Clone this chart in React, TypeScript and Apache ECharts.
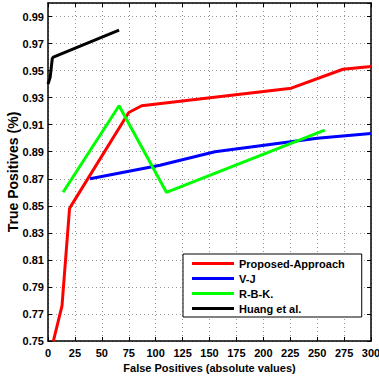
import React, { useEffect, useRef } from "react";
import * as echarts from "echarts";

const seriesNames = ["Proposed-Approach", "V-J", "R-B-K.", "Huang et al."];
const seriesColors = ["#ff0000", "#0000ff", "#00ff00", "#000000"];
const proposed: [number, number][] = [
  [5, 0.75], [13, 0.776], [20, 0.848], [23, 0.852], [75, 0.919], [87, 0.924],
  [226, 0.937], [274, 0.951], [300, 0.953],
];
const vj: [number, number][] = [
  [39, 0.87], [104, 0.88], [155, 0.89], [250, 0.9], [300, 0.9035],
];
const rbk: [number, number][] = [
  [14, 0.86], [66, 0.924], [110, 0.86], [257, 0.906],
];
const huang: [number, number][] = [
  [0, 0.94], [2, 0.945], [4, 0.959], [5, 0.96], [66, 0.98],
];
const xTitle = "False Positives (absolute values)";
const yTitle = "True Positives (%)";

const FONT = "'Liberation Sans', Arial, sans-serif";

export default function App() {
  const ref = useRef<HTMLDivElement>(null);
  useEffect(() => {
    if (!ref.current) return;
    const chart = echarts.init(ref.current, undefined, { renderer: "svg" });
    const data = [proposed, vj, rbk, huang];
    const labelStyle = { color: "#000", fontWeight: "bold" as const, fontSize: 11, fontFamily: FONT };
    const splitLine = { show: true, lineStyle: { color: "#999", type: [1, 3] as any, width: 1 } };
    const axisLine = { show: true, onZero: false, lineStyle: { color: "#000", width: 1.5 } };
    const axisTick = { show: true, inside: true, length: 4, lineStyle: { color: "#000" } };
    chart.setOption({
      animation: false,
      backgroundColor: "#fff",
      grid: { left: 48, right: 8, top: 3, bottom: 37, show: false, containLabel: false, outerBoundsMode: "none" },
      legend: {
        orient: "vertical",
        left: 183,
        top: 254,
        backgroundColor: "#fff",
        borderColor: "#000",
        borderWidth: 1,
        borderRadius: 0,
        padding: [4, 17, 3, 9],
        itemWidth: 42,
        itemHeight: 14,
        itemGap: 4,
        icon: "path://M0 0H42V3H0Z",
        textStyle: { color: "#000", fontWeight: "bold", fontSize: 11, fontFamily: FONT },
        data: seriesNames,
      },
      xAxis: [
        {
          type: "value",
          min: 0,
          max: 300,
          interval: 25,
          name: xTitle,
          nameLocation: "middle",
          nameGap: 21,
          nameMoveOverlap: false,
          nameTextStyle: labelStyle,
          axisLine,
          axisTick,
          axisLabel: { ...labelStyle, margin: 6 },
          splitLine,
        },
        {
          type: "value",
          position: "top",
          min: 0,
          max: 300,
          interval: 25,
          axisLine,
          axisTick,
          axisLabel: { show: false },
          splitLine: { show: false },
        },
      ],
      yAxis: [
        {
          type: "value",
          min: 0.75,
          max: 1.0,
          interval: 0.02,
          name: yTitle,
          nameLocation: "middle",
          nameGap: 28,
          nameMoveOverlap: false,
          nameTextStyle: { ...labelStyle, fontSize: 14 },
          axisLine,
          axisTick,
          axisLabel: {
            ...labelStyle,
            margin: 4,
            showMaxLabel: false,
            formatter: (v: number) => (v > 0.995 ? "" : v.toFixed(2)),
          },
          splitLine,
        },
        {
          type: "value",
          position: "right",
          min: 0.75,
          max: 1.0,
          interval: 0.02,
          axisLine,
          axisTick,
          axisLabel: { show: false },
          splitLine: { show: false },
        },
      ],
      series: data.map((d, i) => ({
        name: seriesNames[i],
        type: "line",
        data: d,
        symbol: "none",
        showSymbol: false,
        color: seriesColors[i],
        lineStyle: { color: seriesColors[i], width: 3 },
        itemStyle: { color: seriesColors[i] },
        z: 3 + i,
      })),
    });
    return () => chart.dispose();
  }, []);
  return (
    <div
      ref={ref}
      style={{ position: "fixed", left: 0, top: 0, width: 379, height: 378 }}
    />
  );
}
